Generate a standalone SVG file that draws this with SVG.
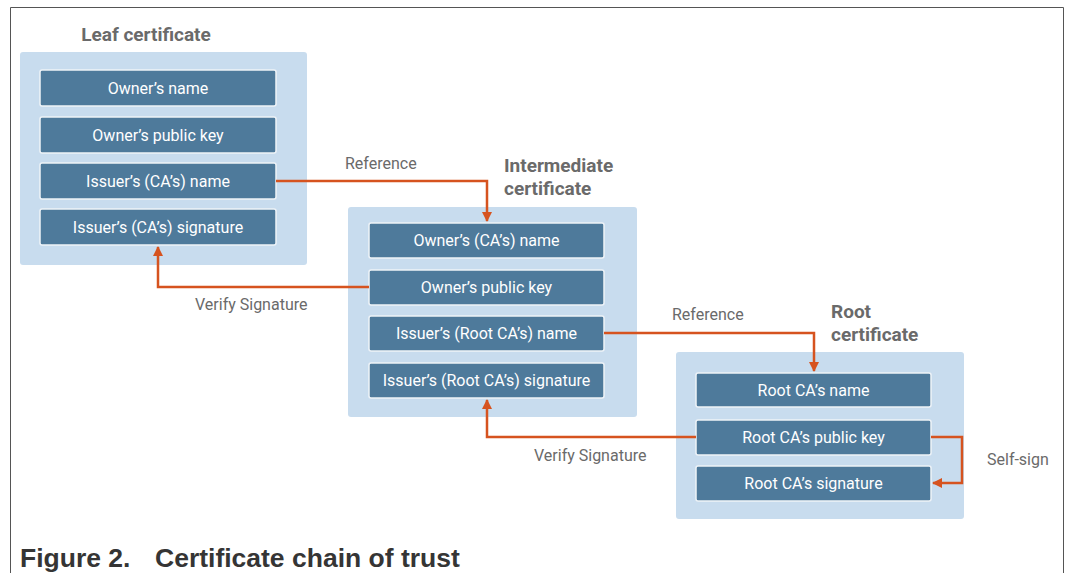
<svg xmlns="http://www.w3.org/2000/svg" width="1066" height="573" viewBox="0 0 1066 573">
  <style>
    .panel { fill: #c8dcee; }
    .field { fill: #4e7a9b; stroke: #eef3f8; stroke-width: 1.5; }
    .field-text { font-family: Roboto, "Liberation Sans", sans-serif; font-size: 16px; fill: #ffffff; text-anchor: middle; dominant-baseline: central; }
    .title { font-family: Roboto, "Liberation Sans", sans-serif; font-size: 19px; font-weight: bold; fill: #6a6a6a; }
    .label { font-family: Roboto, "Liberation Sans", sans-serif; font-size: 16px; fill: #6a6a6a; }
    .link { fill: none; stroke: #d6531f; stroke-width: 2.5; }
    .caption { font-family: "Liberation Sans", Arial, sans-serif; font-size: 26.5px; font-weight: bold; fill: #353535; }
    .frame { fill: none; stroke: #555555; stroke-width: 1; }
  </style>
  <defs>
    <marker id="arrow" viewBox="0 0 10 10" refX="9" refY="5" markerWidth="4" markerHeight="4" orient="auto" markerUnits="strokeWidth">
      <path d="M0,0 L10,5 L0,10 z" fill="#d6531f"/>
    </marker>
  </defs>

  <rect width="1066" height="573" fill="#ffffff"/>
  <path class="frame" d="M10.5,573 V7.5 H1063.5 V573"/>

  <!-- Leaf certificate -->
  <g id="leaf">
    <text class="title" x="146" y="41" text-anchor="middle">Leaf certificate</text>
    <rect class="panel" x="20" y="52" width="287" height="213" rx="3"/>
    <rect class="field" x="40" y="70" width="236" height="36" rx="2"/>
    <text class="field-text" x="158" y="88">Owner’s name</text>
    <rect class="field" x="40" y="117" width="236" height="36" rx="2"/>
    <text class="field-text" x="158" y="135">Owner’s public key</text>
    <rect class="field" x="40" y="163" width="236" height="36" rx="2"/>
    <text class="field-text" x="158" y="181">Issuer’s (CA’s) name</text>
    <rect class="field" x="40" y="209" width="236" height="36" rx="2"/>
    <text class="field-text" x="158" y="227">Issuer’s (CA’s) signature</text>
  </g>

  <!-- Intermediate certificate -->
  <g id="intermediate">
    <text class="title" x="504" y="172">Intermediate</text>
    <text class="title" x="504" y="195">certificate</text>
    <rect class="panel" x="348" y="207" width="289" height="210" rx="3"/>
    <rect class="field" x="369" y="223" width="235" height="35" rx="2"/>
    <text class="field-text" x="486.5" y="240.5">Owner’s (CA’s) name</text>
    <rect class="field" x="369" y="270" width="235" height="35" rx="2"/>
    <text class="field-text" x="486.5" y="287.5">Owner’s public key</text>
    <rect class="field" x="369" y="316" width="235" height="35" rx="2"/>
    <text class="field-text" x="486.5" y="333.5">Issuer’s (Root CA’s) name</text>
    <rect class="field" x="369" y="363" width="235" height="35" rx="2"/>
    <text class="field-text" x="486.5" y="380.5">Issuer’s (Root CA’s) signature</text>
  </g>

  <!-- Root certificate -->
  <g id="root">
    <text class="title" x="831" y="318">Root</text>
    <text class="title" x="831" y="341">certificate</text>
    <rect class="panel" x="676" y="352" width="288" height="167" rx="3"/>
    <rect class="field" x="696" y="373" width="235" height="34" rx="2"/>
    <text class="field-text" x="813.5" y="390">Root CA’s name</text>
    <rect class="field" x="696" y="420" width="235" height="35" rx="2"/>
    <text class="field-text" x="813.5" y="437.5">Root CA’s public key</text>
    <rect class="field" x="696" y="466" width="235" height="35" rx="2"/>
    <text class="field-text" x="813.5" y="483.5">Root CA’s signature</text>
  </g>

  <!-- Connectors -->
  <g id="connectors">
    <path class="link" d="M276,181 H487 V221" marker-end="url(#arrow)"/>
    <path class="link" d="M369,287 H158 V247" marker-end="url(#arrow)"/>
    <path class="link" d="M604,333 H814 V371" marker-end="url(#arrow)"/>
    <path class="link" d="M696,437 H487 V400" marker-end="url(#arrow)"/>
    <path class="link" d="M931,437 H962 V483 H933" marker-end="url(#arrow)"/>
  </g>

  <!-- Connector labels -->
  <g id="labels">
    <text class="label" x="345" y="169">Reference</text>
    <text class="label" x="195" y="310">Verify Signature</text>
    <text class="label" x="672" y="320">Reference</text>
    <text class="label" x="534" y="461">Verify Signature</text>
    <text class="label" x="987" y="465">Self-sign</text>
  </g>

  <text class="caption" x="20" y="567">Figure 2.</text>
  <text class="caption" x="155" y="567">Certificate chain of trust</text>
</svg>
